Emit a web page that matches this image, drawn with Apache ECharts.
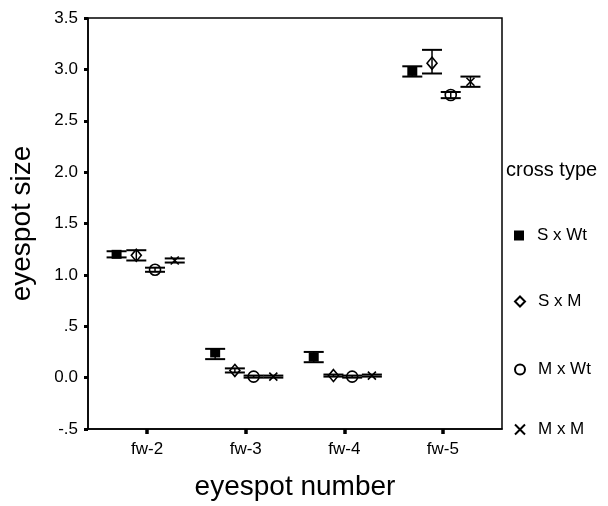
<!DOCTYPE html>
<html>
<head>
<meta charset="utf-8">
<script src="https://cdn.jsdelivr.net/npm/echarts@6/dist/echarts.min.js"></script>
<style>
  html, body { margin: 0; padding: 0; background: #fff; }
  #chart { width: 608px; height: 506px; }
</style>
</head>
<body>
<div id="chart"></div>
<script>
(function () {
    // data
    const categories = ['fw-2', 'fw-3', 'fw-4', 'fw-5'];
    const crossTypes = ['S x Wt', 'S x M', 'M x Wt', 'M x M'];
    const yTicks = [-0.5, 0, 0.5, 1, 1.5, 2, 2.5, 3, 3.5];

    const sxwtMean = [1.20, 0.24, 0.20, 2.98];
    const sxwtLow  = [1.17, 0.18, 0.15, 2.93];
    const sxwtHigh = [1.23, 0.28, 0.25, 3.03];

    const sxmMean = [1.19, 0.07, 0.02, 3.06];
    const sxmLow  = [1.14, 0.05, 0.01, 2.96];
    const sxmHigh = [1.24, 0.09, 0.03, 3.19];

    const mxwtMean = [1.05, 0.01, 0.01, 2.75];
    const mxwtLow  = [1.03, 0.00, 0.00, 2.72];
    const mxwtHigh = [1.07, 0.02, 0.02, 2.78];

    const mxmMean = [1.14, 0.01, 0.02, 2.88];
    const mxmLow  = [1.12, 0.00, 0.01, 2.83];
    const mxmHigh = [1.16, 0.02, 0.03, 2.93];

    const means = [sxwtMean, sxmMean, mxwtMean, mxmMean];
    const lows = [sxwtLow, sxmLow, mxwtLow, mxmLow];
    const highs = [sxwtHigh, sxmHigh, mxwtHigh, mxmHigh];

    // dodge inside each group
    const dodge = [-0.31, -0.11, 0.08, 0.28];
    const symbols = ['rect', 'diamond', 'circle', 'path://M0,0L10,10M10,0L0,10'];
    const symbolSizes = [[10, 9], [10, 12], [11, 11], [8, 8]];
    const fills = ['#000', '#fff', '#fff', 'rgba(0,0,0,0)'];
    const legendTops = [227, 293, 361, 421];

    const font = 'Liberation Sans, Arial, sans-serif';

    function errRender(params, api) {
        const x = api.value(0);
        const top = api.coord([x, api.value(2)]);
        const bot = api.coord([x, api.value(1)]);
        const w = 10;
        return {
            type: 'group',
            children: [
                { type: 'line', shape: { x1: top[0], y1: top[1], x2: bot[0], y2: bot[1] },
                  style: { stroke: '#000', lineWidth: 1.5 } },
                { type: 'line', shape: { x1: top[0] - w, y1: top[1], x2: top[0] + w, y2: top[1] },
                  style: { stroke: '#000', lineWidth: 2 } },
                { type: 'line', shape: { x1: bot[0] - w, y1: bot[1], x2: bot[0] + w, y2: bot[1] },
                  style: { stroke: '#000', lineWidth: 2 } }
            ]
        };
    }

    const series = [];
    crossTypes.forEach(function (name, i) {
        series.push({
            name: name,
            type: 'scatter',
            symbol: symbols[i],
            symbolSize: symbolSizes[i],
            itemStyle: { color: fills[i], borderColor: '#000', borderWidth: i === 0 ? 0 : 1.6, opacity: 1 },
            z: 2,
            data: means[i].map(function (v, k) { return [k + 1 + dodge[i], v]; })
        });
        series.push({
            name: 'err ' + name,
            type: 'custom',
            renderItem: errRender,
            encode: { x: 0, y: [1, 2] },
            z: 3,
            silent: true,
            data: lows[i].map(function (v, k) { return [k + 1 + dodge[i], v, highs[i][k]]; })
        });
    });

    const legends = crossTypes.map(function (name, i) {
        return {
            data: [{ name: name, icon: symbols[i] }],
            left: 514,
            top: legendTops[i],
            padding: 0,
            itemWidth: 10,
            itemHeight: 10,
            selectedMode: false,
            textStyle: { fontFamily: font, fontSize: 17, color: '#000', padding: [0, 0, 0, 8] }
        };
    });

    const option = {
        backgroundColor: '#fff',
        animation: false,
        grid: {
            left: 86, top: 18, width: 416, height: 414,
            show: true, borderColor: '#000', borderWidth: 1.5, backgroundColor: 'transparent'
        },
        legend: legends,
        graphic: [{
            type: 'text',
            left: 506,
            top: 160,
            style: { text: 'cross type', font: '20px ' + font, fill: '#000' }
        }],
        xAxis: {
            type: 'value',
            min: 0.4,
            max: 4.6,
            name: 'eyespot number',
            nameLocation: 'middle',
            nameGap: 44,
            nameTextStyle: { fontFamily: font, fontSize: 28, color: '#000' },
            splitLine: { show: false },
            axisLine: { onZero: false, lineStyle: { color: '#000', width: 1.5 } },
            axisTick: { customValues: [1, 2, 3, 4], length: 5, lineStyle: { color: '#000', width: 3.5 } },
            axisLabel: {
                customValues: [1, 2, 3, 4],
                margin: 12,
                fontFamily: font, fontSize: 17, color: '#000',
                formatter: function (v) { return categories[Math.round(v) - 1]; }
            }
        },
        yAxis: {
            type: 'value',
            min: yTicks[0],
            max: yTicks[yTicks.length - 1],
            interval: 0.5,
            name: 'eyespot size',
            nameLocation: 'middle',
            nameGap: 52,
            nameTextStyle: { fontFamily: font, fontSize: 28, color: '#000' },
            splitLine: { show: false },
            axisLine: { onZero: false, lineStyle: { color: '#000', width: 1.5 } },
            axisTick: { length: 4, lineStyle: { color: '#000', width: 3 } },
            axisLabel: {
                margin: 10,
                fontFamily: font, fontSize: 17, color: '#000',
                formatter: function (v) {
                    if (v === 0.5) return '.5';
                    if (v === -0.5) return '-.5';
                    return v.toFixed(1);
                }
            }
        },
        series: series
    };

    const myChart = echarts.init(document.getElementById('chart'));
    myChart && myChart.setOption(option);
}());
</script>
</body>
</html>
